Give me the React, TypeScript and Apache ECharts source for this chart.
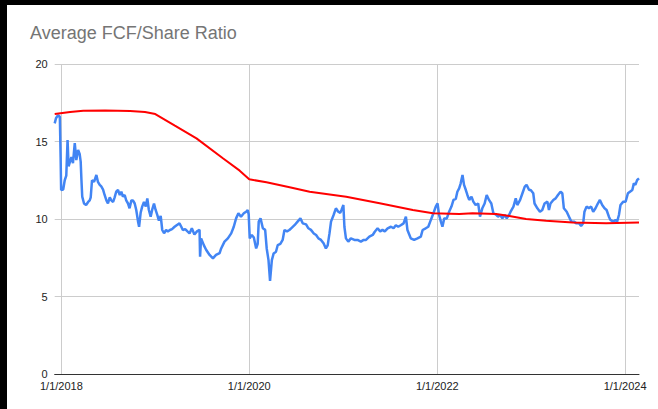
import React, { useEffect, useRef } from "react";
import * as echarts from "echarts";

const TITLE = "Average FCF/Share Ratio";
const Y_MIN = 0;
const Y_MAX = 20;
const Y_STEP = 5;
// x values are days since 1/1/2018
const X_MIN_DAY = -26;
const X_MAX_DAY = 2245;
const X_TICK_DAYS = [0, 730, 1461, 2191];
const X_TICK_LABELS = ["1/1/2018", "1/1/2020", "1/1/2022", "1/1/2024"];

// blue series: FCF/Share ratio (days since 1/1/2018, value)
const FCF_DAYS = [
  -26, -21, -13, -6, -3, -1, 7, 13, 19, 24, 28, 39, 45, 52, 58, 65, 71, 75, 78, 81,
  88, 96, 104, 110, 114, 119, 127, 136, 142, 149, 155, 162, 168, 175, 181, 188, 194, 201, 207, 213,
  220, 227, 233, 239, 246, 252, 259, 265, 272, 278, 285, 291, 298, 302, 308, 314, 321, 328, 334, 340,
  347, 353, 360, 366, 373, 379, 386, 392, 399, 407, 414, 422, 430, 440, 448, 459, 466, 472, 481, 490,
  498, 507, 517, 527, 537, 539, 543, 554, 563, 576, 589, 601, 615, 621, 634, 647, 660, 670, 679, 688,
  698, 709, 718, 724, 728, 732, 740, 748, 757, 763, 767, 774, 783, 792, 798, 805, 811, 818, 825, 834,
  841, 851, 860, 867, 877, 886, 893, 906, 918, 929, 938, 951, 960, 970, 981, 990, 999, 1009, 1019, 1028,
  1035, 1042, 1048, 1058, 1067, 1076, 1084, 1089, 1096, 1100, 1106, 1115, 1125, 1139, 1151, 1164, 1175, 1184, 1197, 1210,
  1218, 1229, 1239, 1248, 1257, 1268, 1281, 1291, 1300, 1309, 1319, 1330, 1339, 1345, 1352, 1358, 1371, 1384, 1397, 1404,
  1416, 1426, 1436, 1446, 1455, 1462, 1468, 1475, 1481, 1488, 1498, 1507, 1516, 1524, 1533, 1539, 1546, 1552, 1559, 1565,
  1572, 1578, 1585, 1594, 1601, 1610, 1620, 1627, 1636, 1645, 1653, 1662, 1671, 1679, 1688, 1697, 1705, 1714, 1723, 1731,
  1740, 1746, 1757, 1766, 1772, 1783, 1792, 1801, 1808, 1818, 1824, 1834, 1839, 1850, 1860, 1869, 1878, 1889, 1895, 1901,
  1912, 1921, 1930, 1940, 1947, 1953, 1964, 1973, 1982, 1992, 2002, 2012, 2020, 2028, 2033, 2041, 2050, 2059, 2067, 2076,
  2085, 2093, 2102, 2111, 2119, 2128, 2134, 2145, 2154, 2160, 2167, 2173, 2184, 2193, 2202, 2210, 2219, 2225, 2231, 2238,
  2245,
];
const FCF_VALUES = [
  16.17, 16.5, 16.7, 16.6, 14.0, 11.87, 11.9, 12.5, 12.8, 15.1, 13.4, 14.0, 13.6, 14.9, 13.8, 14.45, 14.2, 13.7, 12.5, 11.44,
  11.0, 10.9, 11.1, 11.2, 11.4, 12.5, 12.4, 12.84, 12.4, 12.2, 12.1, 11.9, 11.55, 11.2, 11.0, 11.4, 11.2, 11.1, 11.4, 11.76,
  11.87, 11.55, 11.76, 11.44, 11.55, 11.2, 11.0, 10.69, 11.2, 11.2, 11.0, 10.58, 9.83, 9.5, 10.4, 10.8, 11.1, 10.8, 11.33, 10.58,
  10.15, 10.6, 11.0, 10.6, 10.25, 9.9, 10.2, 9.29, 9.08, 9.29, 9.2, 9.29, 9.35, 9.5, 9.6, 9.72, 9.5, 9.29, 9.35, 9.2,
  9.07, 9.4, 9.0, 9.2, 9.3, 7.57, 8.75, 8.3, 8.0, 7.68, 7.46, 7.68, 7.8, 8.1, 8.54, 8.75, 9.07, 9.5, 10.04, 10.37,
  10.15, 10.37, 10.47, 10.58, 10.3, 8.75, 8.97, 8.8, 8.1, 8.4, 9.83, 10.04, 9.4, 9.3, 8.1, 7.35, 6.0, 7.35, 7.78, 7.89,
  8.32, 8.4, 8.65, 9.29, 9.2, 9.29, 9.4, 9.6, 9.83, 10.04, 9.72, 9.65, 9.4, 9.3, 9.07, 8.97, 8.75, 8.65, 8.43, 8.1,
  8.3, 9.07, 9.83, 10.26, 10.69, 10.47, 10.4, 10.6, 10.9, 9.5, 8.75, 8.54, 8.75, 8.65, 8.65, 8.54, 8.65, 8.65, 8.86, 8.97,
  9.18, 9.4, 9.2, 9.3, 9.2, 9.4, 9.5, 9.4, 9.6, 9.5, 9.6, 9.72, 10.15, 9.29, 9.0, 8.75, 8.65, 8.75, 8.86, 9.29,
  9.4, 9.5, 9.94, 10.37, 10.8, 11.0, 10.26, 9.83, 9.5, 10.04, 10.04, 10.47, 10.8, 11.23, 11.3, 11.76, 11.98, 12.3, 12.84, 12.2,
  11.87, 11.55, 11.23, 11.44, 11.12, 10.9, 11.0, 10.15, 10.69, 11.0, 11.55, 11.23, 11.0, 10.37, 10.3, 10.15, 10.26, 10.04, 10.26, 10.04,
  10.26, 10.47, 10.8, 11.33, 10.9, 11.23, 11.66, 12.09, 12.2, 11.87, 11.87, 11.66, 11.0, 10.69, 10.47, 10.58, 11.0, 11.12, 10.58, 11.0,
  11.23, 11.33, 11.55, 11.76, 11.66, 10.69, 10.47, 10.15, 9.83, 9.83, 9.72, 9.72, 9.55, 9.72, 10.47, 10.8, 10.69, 10.8, 10.47, 10.69,
  11.0, 11.23, 10.9, 10.69, 10.58, 10.15, 9.94, 9.83, 9.94, 9.83, 10.26, 10.9, 11.12, 11.12, 11.66, 11.76, 11.87, 12.3, 12.2, 12.52,
  12.62,
];

// red series: average ratio
const AVG_DAYS = [
  -26, 34, 85, 170, 267, 325, 365, 441, 525, 629, 693, 730, 797, 887, 965, 1107, 1237, 1366, 1444, 1547,
  1598, 1690, 1741, 1806, 1884, 1987, 2117, 2245,
];
const AVG_VALUES = [
  16.77, 16.9, 16.99, 17.0, 16.97, 16.9, 16.77, 16.02, 15.2, 13.9, 13.12, 12.56, 12.37, 12.05, 11.76, 11.44, 11.01, 10.58, 10.37, 10.32,
  10.37, 10.32, 10.19, 10.0, 9.89, 9.78, 9.72, 9.78,
];

const FONT = "'Liberation Sans', Arial, sans-serif";

export default function App() {
  const ref = useRef<HTMLDivElement>(null);

  useEffect(() => {
    if (!ref.current) return;
    const chart = echarts.init(ref.current, undefined, { renderer: "svg" });
    const fcf = FCF_DAYS.map((d, i) => [d, FCF_VALUES[i]]);
    const avg = AVG_DAYS.map((d, i) => [d, AVG_VALUES[i]]);
    chart.setOption({
      animation: false,
      backgroundColor: "#ffffff",
      title: {
        text: TITLE,
        left: 23,
        top: 19,
        padding: 0,
        textStyle: { color: "#757575", fontSize: 18, fontWeight: "normal", fontFamily: FONT },
      },
      grid: { left: 47.7, right: 19, top: 59, bottom: 35, containLabel: false },
      xAxis: {
        type: "value",
        min: X_MIN_DAY,
        max: X_MAX_DAY,
        axisLine: { show: true, lineStyle: { color: "#333333", width: 1 } },
        axisTick: { show: false, customValues: X_TICK_DAYS },
        axisLabel: {
          customValues: X_TICK_DAYS,
          formatter: (v: number) => {
            const i = X_TICK_DAYS.indexOf(v);
            return i >= 0 ? X_TICK_LABELS[i] : "";
          },
          color: "#222222",
          fontSize: 11,
          fontFamily: FONT,
          margin: 6,
          showMinLabel: true,
          showMaxLabel: true,
        },
        splitLine: { show: true, lineStyle: { color: "#cccccc", width: 1 } },
      },
      yAxis: {
        type: "value",
        min: Y_MIN,
        max: Y_MAX,
        interval: Y_STEP,
        axisLine: { show: false },
        axisTick: { show: false },
        axisLabel: { color: "#222222", fontSize: 11, fontFamily: FONT, margin: 7 },
        splitLine: { show: true, lineStyle: { color: "#cccccc", width: 1 } },
      },
      series: [
        {
          type: "line",
          data: fcf,
          showSymbol: false,
          lineStyle: { color: "#4285F4", width: 2.5 },
          itemStyle: { color: "#4285F4" },
          z: 2,
        },
        {
          type: "line",
          data: avg,
          showSymbol: false,
          smooth: false,
          lineStyle: { color: "#FF0000", width: 2 },
          itemStyle: { color: "#FF0000" },
          z: 3,
        },
      ],
    });
    return () => chart.dispose();
  }, []);

  return (
    <div style={{ position: "fixed", left: 0, top: 0, width: 658, height: 409, background: "#000000" }}>
      <div
        ref={ref}
        style={{ position: "absolute", left: 7, top: 5, width: 651, height: 404, background: "#ffffff" }}
      />
    </div>
  );
}
